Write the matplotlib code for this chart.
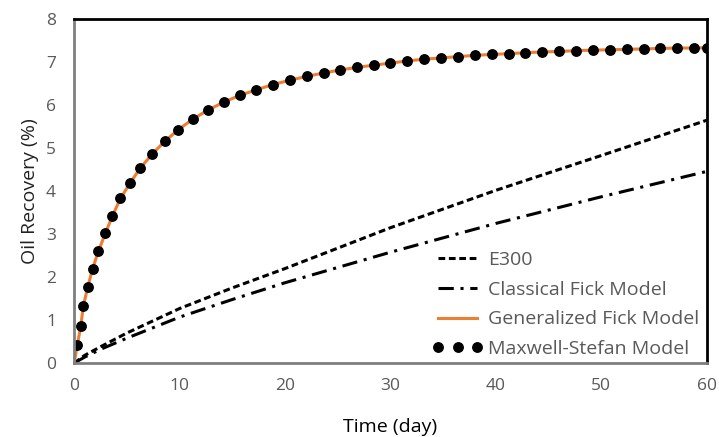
import matplotlib
matplotlib.use("Agg")
import matplotlib.pyplot as plt

# E300 (dashed)
e300_t = [0, 1, 2.5, 5, 10, 15, 20, 30, 40, 50, 60]
e300_r = [0, 0.18, 0.38, 0.70, 1.27, 1.75, 2.20, 3.15, 4.02, 4.83, 5.65]

# Classical Fick (dash-dot)
fick_t = [0, 1, 2.5, 5, 10, 15, 20, 30, 40, 50, 60]
fick_r = [0, 0.14, 0.32, 0.58, 1.07, 1.48, 1.87, 2.58, 3.25, 3.87, 4.46]

# Maxwell-Stefan (dots)
ms_t = [0.31, 0.64, 0.88, 1.3, 1.75, 2.3, 2.97, 3.63, 4.4, 5.31, 6.29, 7.43,
        8.6, 9.89, 11.28, 12.73, 14.18, 15.73, 17.3, 18.86, 20.44, 22.05,
        23.67, 25.24, 26.82, 28.4, 30.0, 31.6, 33.2, 34.8, 36.4, 38.0, 39.6,
        41.2, 42.8, 44.4, 46.0, 47.6, 49.2, 50.8, 52.4, 54.0, 55.6, 57.2,
        58.8, 60.0]
ms_r = [0.42, 0.87, 1.33, 1.77, 2.19, 2.6, 3.02, 3.42, 3.83, 4.19, 4.54, 4.87,
        5.16, 5.43, 5.68, 5.89, 6.07, 6.23, 6.36, 6.48, 6.58, 6.67,
        6.75, 6.82, 6.88, 6.93, 6.98, 7.03, 7.07, 7.10, 7.13, 7.16, 7.18,
        7.20, 7.22, 7.24, 7.25, 7.27, 7.28, 7.29, 7.30, 7.31, 7.32, 7.33,
        7.33, 7.34]

# Generalized Fick (orange line) follows the same curve from the origin
gf_t = [0] + ms_t
gf_r = [0] + ms_r

fig = plt.figure(figsize=(7.19, 4.37), dpi=100)
ax = fig.add_axes([0.103, 0.169, 0.880, 0.787])

ax.plot(e300_t, e300_r, color="black", lw=2.2, dashes=(2.2, 1.2), label="E300")
ax.plot(fick_t, fick_r, color="black", lw=2.2, dashes=(5, 2.2, 1, 2.2),
        label="Classical Fick Model")
ax.plot(gf_t, gf_r, color="#ED7D31", lw=2.2, label="Generalized Fick Model")
ax.plot(ms_t, ms_r, "o", color="black", ms=6.8, label="Maxwell-Stefan Model")

ax.set_xlim(0, 60)
ax.set_ylim(0, 8)
ax.set_xticks(range(0, 61, 10))
ax.set_yticks(range(0, 9))

for s in ["top", "right"]:
    ax.spines[s].set_color("black")
    ax.spines[s].set_linewidth(2)
for s in ["left", "bottom"]:
    ax.spines[s].set_color("#7f7f7f")
    ax.spines[s].set_linewidth(2)

ax.tick_params(length=0, labelsize=12.5, labelcolor="#595959")
ax.tick_params(axis="x", pad=11)
ax.tick_params(axis="y", pad=13)
for lab in ax.get_xticklabels() + ax.get_yticklabels():
    lab.set_family("Open Sans")

ax.set_xlabel("Time (day)", fontsize=14, family="Open Sans", labelpad=17)
ax.set_ylabel("Oil Recovery (%)", fontsize=14, family="Open Sans",
              labelpad=5, color="#222222")

leg = ax.legend(loc="lower right", bbox_to_anchor=(1.0, -0.008),
                frameon=False, numpoints=3,
                handlelength=2.6, handletextpad=0.25, labelspacing=0.6,
                borderaxespad=0.0,
                prop={"family": "Open Sans", "size": 14})
for t in leg.get_texts():
    t.set_color("#595959")

fig.savefig("out.png", dpi=100)
